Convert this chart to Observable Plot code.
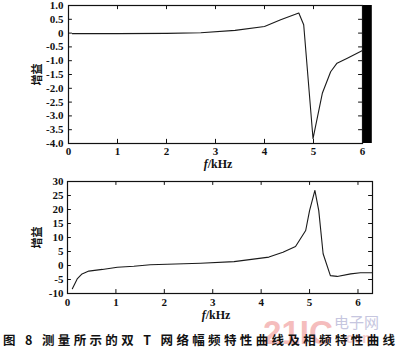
<!DOCTYPE html>
<html><head><meta charset="utf-8">
<script src="https://cdn.jsdelivr.net/npm/d3@7"></script>
<script src="https://cdn.jsdelivr.net/npm/@observablehq/plot@0.6"></script>
<style>
body{margin:0;background:#fff;width:400px;height:357px;overflow:hidden;position:relative}
#top,#bot,#cap{position:absolute;left:0}
#top{top:0}
#bot{top:172px}
#cap{top:300px}
</style></head><body>
<div id="top"></div><div id="bot"></div>
<svg id="cap" width="400" height="57"></svg>
<script>
// ---- data ----
const magFreq = [0.08, 1.0, 2.0, 2.7, 3.4, 4.0, 4.33, 4.7, 4.8, 4.99, 5.18, 5.35, 5.48, 5.69, 6.0];
const magGain = [-0.02, -0.02, -0.01, 0.01, 0.1, 0.24, 0.48, 0.73, 0.3, -3.82, -2.18, -1.4, -1.09, -0.91, -0.63];
const phaseFreq = [0.1, 0.2, 0.3, 0.44, 0.72, 1.03, 1.37, 1.71, 2.75, 3.44, 4.16, 4.45, 4.71, 4.92, 5.0, 5.11, 5.19, 5.28, 5.43, 5.57, 5.85, 6.05, 6.3];
const phaseGain = [-8.3, -4.8, -3.0, -2.0, -1.4, -0.6, -0.25, 0.25, 0.8, 1.4, 3.0, 4.7, 6.8, 12.5, 19.6, 26.8, 19.6, 4.2, -3.6, -3.9, -3.0, -2.6, -2.6];
const xTicks = [0, 1, 2, 3, 4, 5, 6];
const magTicks = [1, 0.5, 0, -0.5, -1, -1.5, -2, -2.5, -3, -3.5, -4];
const magTickLabels = ["1.0", "0.5", "0", "-0.5", "-1.0", "-1.5", "-2.0", "-2.5", "-3.0", "-3.5", "-4.0"];
const phaseTicks = [30, 25, 20, 15, 10, 5, 0, -5, -10];
const phaseTickLabels = ["30", "25", "20", "15", "10", "5", "0", "-5", "-10"];
const yLabel = "增益";
const xLabelItalic = "f";
const xLabelRest = "/kHz";
const caption = "图 8  测量所示的双 T 网络幅频特性曲线及相频特性曲线";

const magLabelMap = new Map(magTicks.map((t, i) => [t, magTickLabels[i]]));
const phaseLabelMap = new Map(phaseTicks.map((t, i) => [t, phaseTickLabels[i]]));
const magData = magFreq.map((f, i) => ({f, g: magGain[i]}));
const phaseData = phaseFreq.map((f, i) => ({f, g: phaseGain[i]}));

const style = {fontFamily: "'Liberation Serif','Noto Sans CJK SC',serif", fontSize: "11px", fontWeight: "bold", color: "#111", background: "white", overflow: "visible"};

function addXLabel(svg, x, y) {
  const t = d3.select(svg).append("text")
    .attr("x", x).attr("y", y).attr("text-anchor", "middle")
    .attr("font-family", "'Liberation Serif',serif").attr("font-size", "12px").attr("font-weight", "bold").attr("fill", "#111");
  t.append("tspan").attr("font-style", "italic").text(xLabelItalic);
  t.append("tspan").text(xLabelRest);
}

// ---- top chart ----
const magX = [0, 6], magY = [-4, 1];
const topSvg = Plot.plot({
  width: 400, height: 172,
  marginLeft: 68, marginRight: 38, marginTop: 5, marginBottom: 29,
  x: {domain: magX},
  y: {domain: magY},
  style,
  marks: [
    Plot.rect([0], {x1: 6, x2: 6.2, y1: magY[0], y2: magY[1], fill: "#000"}),
    Plot.frame({stroke: "#111", strokeWidth: 1.2}),
    Plot.axisX(xTicks, {tickSize: 0, tickPadding: 4, tickFormat: d => String(d), label: null}),
    Plot.axisY(magTicks, {tickSize: 0, tickPadding: 5, tickFormat: d => magLabelMap.get(d), label: yLabel, labelAnchor: "center", labelOffset: 35, labelArrow: "none"}),
    Plot.ruleY(magTicks, {y: d => d, x1: 0, x2: 0.08, stroke: "#111"}),
    Plot.ruleY(magTicks, {y: d => d, x1: 5.92, x2: 6, stroke: "#111"}),
    Plot.ruleX(xTicks, {x: d => d, y1: -4, y2: -3.85, stroke: "#111"}),
    Plot.ruleX(xTicks, {x: d => d, y1: 1, y2: 0.85, stroke: "#111"}),
    Plot.line(magData, {x: "f", y: "g", stroke: "#1a1a1a", strokeWidth: 1.1})
  ]
});
document.getElementById("top").append(topSvg);
addXLabel(topSvg, 218, 168);

// ---- bottom chart ----
const phX = [0, 6.3], phY = [-10, 30];
const botSvg = Plot.plot({
  width: 400, height: 150,
  marginLeft: 67, marginRight: 28, marginTop: 9, marginBottom: 29,
  x: {domain: phX},
  y: {domain: phY},
  style,
  marks: [
    Plot.frame({stroke: "#111", strokeWidth: 1.2}),
    Plot.axisX(xTicks, {tickSize: 0, tickPadding: 5, tickFormat: d => String(d), label: null}),
    Plot.axisY(phaseTicks, {tickSize: 0, tickPadding: 4, tickFormat: d => phaseLabelMap.get(d), label: yLabel, labelAnchor: "center", labelOffset: 34, labelArrow: "none"}),
    Plot.ruleY(phaseTicks, {y: d => d, x1: 0, x2: 0.08, stroke: "#111"}),
    Plot.ruleY(phaseTicks, {y: d => d, x1: 6.22, x2: 6.3, stroke: "#111"}),
    Plot.ruleX(xTicks, {x: d => d, y1: -10, y2: -8.6, stroke: "#111"}),
    Plot.ruleX(xTicks, {x: d => d, y1: 30, y2: 28.6, stroke: "#111"}),
    Plot.line(phaseData, {x: "f", y: "g", stroke: "#1a1a1a", strokeWidth: 1.1})
  ]
});
document.getElementById("bot").append(botSvg);
addXLabel(botSvg, 216, 147);

// ---- caption & watermark ----
const cap = d3.select("#cap");
cap.append("text").attr("x", 263).attr("y", 44).attr("font-family", "'Liberation Sans',sans-serif")
  .attr("font-weight", "bold").attr("font-size", "34px").attr("fill", "#f2a7a7").attr("opacity", 0.75)
  .attr("textLength", 70).attr("lengthAdjust", "spacingAndGlyphs").text("21IC");
cap.append("text").attr("x", 334).attr("y", 28).attr("font-family", "'Noto Sans CJK SC',sans-serif")
  .attr("font-size", "15px").attr("fill", "#b8b8d8").attr("opacity", 0.8).text("电子网");
cap.append("text").attr("x", 342).attr("y", 43).attr("font-family", "'Liberation Sans',sans-serif")
  .attr("font-weight", "bold").attr("font-size", "14px").attr("fill", "#f2b8b8").attr("opacity", 0.7).text(".com");
cap.append("text").attr("x", 3).attr("y", 45).attr("font-family", "'Noto Sans CJK SC',sans-serif")
  .attr("font-weight", "bold").attr("font-size", "12.5px").attr("fill", "#111")
  .attr("textLength", 392).attr("lengthAdjust", "spacing").text(caption);
</script>
</body></html>
